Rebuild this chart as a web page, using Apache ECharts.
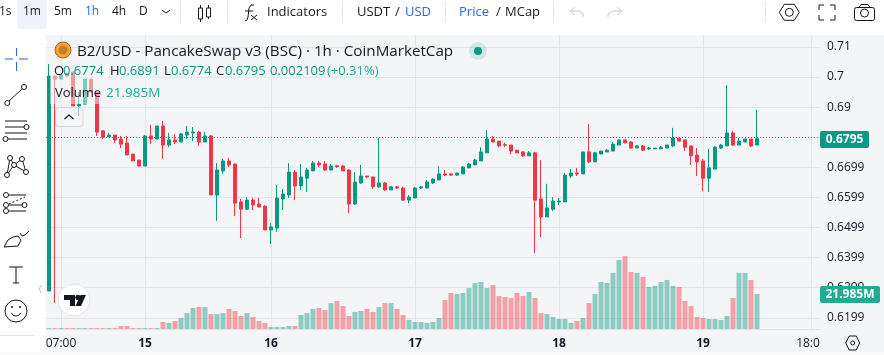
<!DOCTYPE html>
<html><head><meta charset="utf-8">
<style>html,body{margin:0;padding:0;background:#fff;overflow:hidden}#c{width:884px;height:355px}</style>
<script src="https://cdn.jsdelivr.net/npm/echarts@6/dist/echarts.min.js"></script>
</head><body><div id="c"></div>
<script>
const opens=[.6289,.7003,.6993,.7013,.7017,.6904,.6910,.6993,.6950,.6821,.6801,.6807,.6794,.6781,.6744,.6724,.6704,.6804,.6794,.6837,.6774,.6791,.6784,.6807,.6814,.6817,.6784,.6804,.6608,.6688,.6721,.6711,.6585,.6561,.6591,.6578,.6571,.6492,.6498,.6595,.6608,.6684,.6638,.6664,.6688,.6714,.6711,.6691,.6705,.6704,.6691,.6578,.6648,.6671,.6668,.6635,.6648,.6625,.6635,.6631,.6591,.6598,.6631,.6631,.6648,.6658,.6678,.6678,.6674,.6678,.6698,.6708,.6721,.6748,.6794,.6787,.6775,.6774,.6757,.6751,.6738,.6748,.6595,.6535,.6561,.6585,.6585,.6671,.6681,.6678,.6751,.6718,.6744,.6751,.6754,.6774,.6791,.6784,.6764,.6771,.6761,.6761,.6761,.6764,.6771,.6797,.6791,.6771,.6741,.6721,.6664,.6694,.6764,.6771,.6814,.6774,.6784,.6794,.6774];
const closes=[.7003,.6993,.7007,.7003,.6904,.6910,.6993,.6950,.6817,.6801,.6807,.6791,.6777,.6741,.6721,.6704,.6804,.6794,.6837,.6774,.6791,.6784,.6811,.6817,.6817,.6784,.6804,.6608,.6691,.6721,.6708,.6581,.6561,.6591,.6575,.6568,.6492,.6502,.6598,.6611,.6684,.6638,.6668,.6691,.6714,.6708,.6691,.6704,.6702,.6688,.6578,.6651,.6671,.6668,.6635,.6648,.6625,.6635,.6631,.6591,.6601,.6631,.6635,.6651,.6661,.6678,.6674,.6674,.6681,.6701,.6711,.6724,.6751,.6794,.6784,.6771,.6773,.6754,.6748,.6738,.6748,.6591,.6535,.6565,.6588,.6588,.6674,.6681,.6678,.6751,.6718,.6748,.6754,.6757,.6777,.6791,.6781,.6764,.6771,.6757,.6764,.6764,.6767,.6774,.6797,.6787,.6767,.6738,.6718,.6664,.6698,.6767,.6774,.6814,.6774,.6787,.6794,.6771,.6795];
const lows=[.6289,.6249,.6993,.7003,.6904,.6870,.6910,.6950,.6804,.6794,.6801,.6781,.6764,.6741,.6721,.6704,.6704,.6777,.6794,.6728,.6767,.6777,.6784,.6794,.6787,.6771,.6784,.6608,.6522,.6678,.6701,.6538,.6465,.6558,.6558,.6568,.6492,.6445,.6485,.6558,.6598,.6591,.6625,.6618,.6688,.6701,.6688,.6691,.6698,.6688,.6548,.6575,.6645,.6664,.6628,.6631,.6621,.6625,.6628,.6588,.6581,.6598,.6628,.6631,.6645,.6658,.6671,.6671,.6671,.6678,.6698,.6708,.6721,.6748,.6784,.6767,.6767,.6744,.6748,.6734,.6738,.6415,.6468,.6535,.6555,.6575,.6585,.6664,.6671,.6678,.6714,.6718,.6744,.6751,.6754,.6774,.6781,.6761,.6764,.6754,.6757,.6761,.6761,.6764,.6767,.6787,.6754,.6708,.6671,.6621,.6618,.6694,.6761,.6771,.6771,.6774,.6784,.6767,.6774];
const highs=[.7043,.7003,.7007,.7013,.7017,.6950,.6993,.6993,.6950,.6824,.6814,.6807,.6804,.6804,.6744,.6724,.6807,.6841,.6837,.6854,.6814,.6811,.6814,.6837,.6834,.6821,.6817,.6807,.6714,.6728,.6731,.6711,.6595,.6601,.6598,.6598,.6575,.6515,.6641,.6628,.6714,.6691,.6711,.6698,.6721,.6721,.6721,.6711,.6708,.6708,.6694,.6684,.6708,.6671,.6668,.6797,.6651,.6638,.6638,.6635,.6608,.6635,.6638,.6658,.6664,.6704,.6691,.6681,.6681,.6704,.6714,.6728,.6767,.6824,.6804,.6787,.6782,.6774,.6757,.6754,.6754,.6751,.6724,.6645,.6601,.6598,.6681,.6694,.6698,.6751,.6844,.6751,.6754,.6761,.6784,.6791,.6791,.6787,.6774,.6774,.6767,.6764,.6771,.6774,.6831,.6797,.6791,.6771,.6764,.6728,.6761,.6771,.6777,.6973,.6821,.6797,.6794,.6794,.6891];
const volumesM=[.6,.6,.6,.6,.6,.6,.6,.6,.6,.6,.6,.6,1.9,1.9,.6,.6,.6,.6,.6,4.4,3.8,5,6.9,10,13.2,13.8,13.8,9.4,9.4,10,12.6,11.3,8.2,10,7.5,5,3.8,1.3,1.3,1.3,1.9,1.9,8.8,10,12.6,13.2,11.9,16.3,17.6,14.4,8.2,10.7,11.3,12.6,10.7,13.8,16.3,16.3,12.6,8.8,5.7,4.4,4.4,3.8,4.4,6.9,18.2,22.6,22,22.6,25.7,28.9,29.5,25.7,27.6,20.7,20.1,19.5,22.6,20.7,23.2,19.5,10,9.4,7.5,6.3,6.3,3.8,5,6.9,16.3,22,29.5,28.9,35.2,43.3,45.8,35.8,35.2,32.7,26.4,27,29.5,30.8,27,26.4,17.6,14.4,7.5,6.9,6.3,6.3,5.7,8.2,19.5,35.2,35.2,30.8,21.985];
const xTickIndex=[2,16,37,61,85,109,127];
const xTickLabels=['07:00','15','16','17','18','19','18:0'];
const yTickValues=[.71,.7,.69,.68,.67,.66,.65,.64,.63,.62];
const yTickLabels=['0.71','0.7','0.69','0.68','0.6699','0.6599','0.6499','0.6399','0.6299','0.6199'];
const lastPrice=0.6795;
const SLOTS=129;
const categories=Array.from({length:SLOTS},(_,i)=>{const n=xTickIndex.indexOf(i);return n<0?'':xTickLabels[n]});
const UP='#089981',DOWN='#f23645',INK='#131722',BLUE='#2962ff',FONT='"Open Sans","Noto Sans",sans-serif',PANE='#f4f5f7';
const candleData=opens.map((o,i)=>[o,closes[i],lows[i],highs[i]]);
const volumeData=volumesM.map((v,i)=>({value:v,itemStyle:{color:closes[i]>=opens[i]?'rgba(8,153,129,0.44)':'rgba(242,54,69,0.44)'}}));
const g=[];
const T=(x,y,text,fill,size,extra)=>g.push({type:'text',x,y,z:60,silent:true,style:Object.assign({text,fill:fill||INK,font:(size||12)+'px '+FONT,textVerticalAlign:'middle',textAlign:'left'},extra||{})});
const L=(pts,stroke,w,extra)=>g.push({type:'polyline',z:60,silent:true,shape:{points:pts},style:Object.assign({stroke:stroke||INK,lineWidth:w||1,fill:null},extra||{})});
const C=(cx,cy,r,stroke,fill,z)=>g.push({type:'circle',z:z||60,silent:true,shape:{cx,cy,r},style:{stroke:stroke||INK,fill:fill||'none',lineWidth:1}});
const R=(x,y,w,h,fill,z,stroke,r)=>g.push({type:'rect',z:z||60,silent:true,shape:{x,y,width:w,height:h,r:r||0},style:{fill:fill||'none',stroke:stroke||'none',lineWidth:1}});
const P=(pts,fill)=>g.push({type:'polygon',z:60,silent:true,shape:{points:pts},style:{fill}});
// pane
R(46,35,838,317,PANE,-5);
R(0,352,884,3,'#fafafb',-5);
// legend scrim
R(50,62,107,42,'rgba(244,245,247,0.5)',50);
// top toolbar
R(17,0,30,29,'#f0f3fa',1,null,4);
T(-1,12,'1s');T(23,12,'1m');T(54,12,'5m');T(85,12,'1h',BLUE);T(112,12,'4h');T(139,12,'D');
L([[162,10],[166,13],[170,10]]);
[180,227,342,445,553,765].forEach(x=>R(x,1,1,22,'#e0e3eb'));
R(198.5,8,4,11,null,60,INK);L([[200.5,5],[200.5,8]]);L([[200.5,19],[200.5,22]]);
R(206.5,8,4,9,null,60,INK);L([[208.5,5],[208.5,8]]);L([[208.5,17],[208.5,19]]);
L([[245,21],[247,20],[248,17],[249,8],[251,5],[254,5]]);L([[245,11],[253,11]]);L([[251,15],[257,20]]);L([[257,15],[251,20]]);
T(267,12,'Indicators',INK,13);
T(357,12,'USDT',INK,13);T(395,12,'/',INK,13);T(405,12,'USD',BLUE,13);
T(459,12,'Price',BLUE,13);T(496,12,'/',INK,13);T(505,12,'MCap',INK,13);
L([[575,7],[570.5,11],[575,15]],'#c6c8ce');L([[570.5,11],[579,11],[583,14],[583,17]],'#c6c8ce');
L([[617,7],[621.5,11],[617,15]],'#c6c8ce');L([[621.5,11],[613,11],[608,14],[608,17]],'#c6c8ce');
const hex=(cx,cy,w,h,r)=>{L([[cx-w,cy],[cx-w/2,cy-h],[cx+w/2,cy-h],[cx+w,cy],[cx+w/2,cy+h],[cx-w/2,cy+h],[cx-w,cy]]);C(cx,cy,r)};
hex(789.3,12.3,10,8,4);
[[819,10,819,5,824,5],[830,5,835,5,835,10],[835,15,835,20,830,20],[824,20,819,20,819,15]].forEach(a=>L([[a[0],a[1]],[a[2],a[3]],[a[4],a[5]]]));
R(854.5,7.5,20,13,null,60,INK,2);L([[859,7.5],[861,4.5],[868,4.5],[870,7.5]]);C(864.5,13,4);
// left toolbar
L([[5,59],[13,59]],BLUE);L([[19,59],[28,59]],BLUE);L([[16.5,48],[16.5,56]],BLUE);L([[16.5,62],[16.5,71]],BLUE);
L([[9,101],[22,89]]);C(7.3,103,2.5);C(24,87,2.5);
L([[5,121],[27,121]]);L([[5,127],[24,127]]);C(26.5,127,2.5);L([[5,133],[27,133]]);L([[8,139],[27,139]]);C(5.5,139,2.5);
L([[7,175],[10,158],[14,165],[22,159],[26,172],[14,165],[7,175]]);[[10,158],[22,159],[14,165],[7,175],[26,172]].forEach(p=>C(p[0],p[1],2.5,INK,'#fff'));
L([[9,195],[26,195]]);C(6,195,2.5);L([[9,204],[25,197]],INK,1,{lineDash:[2,2]});L([[9,205],[22,205]]);C(6,205,2.5);C(24.5,205,2.5);L([[9,211],[26,211]]);C(6,211,2.5);
L([[4,247],[8,240],[13,237],[18,236],[21,240],[18,246],[4,247]]);L([[20,233],[22,236],[25,235],[29,231]]);
L([[9,267],[23,267]]);L([[16,267],[16,283]]);L([[13,283],[19,283]]);
C(16,311,11);C(12,307,.6,INK,INK);C(20,307,.6,INK,INK);
g.push({type:'arc',z:60,silent:true,shape:{cx:16,cy:311,r:5,startAngle:.4,endAngle:2.74},style:{stroke:INK,fill:null,lineWidth:1}});
R(0,335,34,1,'#e0e3eb');
L([[41.5,285],[39,289],[41.5,293]],'#c3c5ca');
// coin + title
g.push({type:'circle',z:60,silent:true,shape:{cx:63,cy:50,r:8},style:{fill:'#f0a23a',stroke:'#a8681c',lineWidth:1}});
g.push({type:'circle',z:61,silent:true,shape:{cx:63,cy:50,r:4.5},style:{fill:'#c77f22'}});
T(77,51.5,'B2/USD - PancakeSwap v3 (BSC) · 1h · CoinMarketCap',INK,15.2);
g.push({type:'circle',z:60,silent:true,shape:{cx:478,cy:51,r:9},style:{fill:'rgba(8,153,129,0.15)'}});
g.push({type:'circle',z:61,silent:true,shape:{cx:478,cy:51,r:4},style:{fill:UP}});
// legend
T(54,71.5,'O',INK,13);T(63,71.5,'0.6774',UP,13);T(110,71.5,'H',INK,13);T(119,71.5,'0.6891',UP,13);T(164,71.5,'L',INK,13);T(171,71.5,'0.6774',UP,13);T(216,71.5,'C',INK,13);T(225,71.5,'0.6795',UP,13);T(270,71.5,'0.002109',UP,13);T(327,71.5,'(+0.31%)','#22ab94',13);
T(55,93,'Volume',INK,13);T(106,93,'21.985M','#22ab94',13.5);
R(55.5,107.5,27.5,19,'rgba(244,245,247,0.6)',55,'#d5d8e0',3);
L([[64.5,119],[69,115],[73.5,119]],INK,1.2);
// TV logo
C(74,300,16,'#e0e3eb','#fff',58);
P([[64,295],[75,295],[75,306],[70,306],[70,300],[64,300]],INK);
C(78,297.5,2.3,INK,INK,61);
P([[86,295],[81,306],[75.5,306],[80.5,295]],INK);
// price tags
R(820,131,49,17,UP,70,null,2);
T(844.5,140,'0.6795','#fff',12,{textAlign:'center',font:'bold 12px '+FONT});
g[g.length-1].z=71;
R(820,286,60,17,'#22ab94',70,null,2);
T(850,295,'21.985M','#fff',12,{textAlign:'center',font:'bold 12px '+FONT});
g[g.length-1].z=71;
hex(852.7,343,7,7,2);
const chart=echarts.init(document.getElementById('c'),null,{renderer:'canvas'});
chart.setOption({
 animation:false,backgroundColor:'#fff',
 graphic:{elements:g},
 grid:{left:46,top:35,width:774,height:294,containLabel:false},
 xAxis:{type:'category',data:categories,boundaryGap:true,
  axisTick:{show:false,alignWithLabel:true},
  axisLine:{show:true,lineStyle:{color:'#dfe1e6'}},
  splitLine:{show:true,alignWithLabel:true,interval:(i,v)=>v!=='',lineStyle:{color:'#e4e5e9'}},
  axisLabel:{interval:(i,v)=>v!=='',margin:9,color:INK,fontSize:12,fontFamily:'"Open Sans","Noto Sans",sans-serif',
   formatter:v=>/^\d\d$/.test(v)?'{b|'+v+'}':(v==='18:0'?'{c|'+v+'}':v),
   rich:{b:{fontWeight:'bold',fontSize:12,color:INK,fontFamily:'"Open Sans"'},c:{fontSize:12,color:INK,padding:[0,6,0,0],fontFamily:'"Open Sans"'}}}},
 yAxis:[
  {type:'value',position:'right',min:.61628,max:.71395,
   axisLine:{show:false},
   axisTick:{show:false,customValues:yTickValues},
   splitLine:{show:true,lineStyle:{color:'#e4e5e9'}},
   axisLabel:{customValues:yTickValues,margin:7,padding:[2,0,0,0],color:INK,fontSize:12,fontFamily:'"Open Sans","Noto Sans",sans-serif',
    formatter:v=>{let b=0;yTickValues.forEach((t,i)=>{if(Math.abs(t-v)<Math.abs(yTickValues[b]-v))b=i});return yTickLabels[b]}}},
  {type:'value',show:false,min:0,max:184.6,splitLine:{show:false}}
 ],
 series:[
  {type:'bar',yAxisIndex:1,data:volumeData,barWidth:5,z:1,silent:true},
  {type:'candlestick',data:candleData,barWidth:4,z:2,silent:true,
   itemStyle:{color:UP,color0:DOWN,borderColor:UP,borderColor0:DOWN,borderWidth:1},
   markLine:{silent:true,symbol:'none',label:{show:false},lineStyle:{color:UP,type:[1,2],width:1},data:[{yAxis:lastPrice}]}}
 ]
});
</script></body></html>
